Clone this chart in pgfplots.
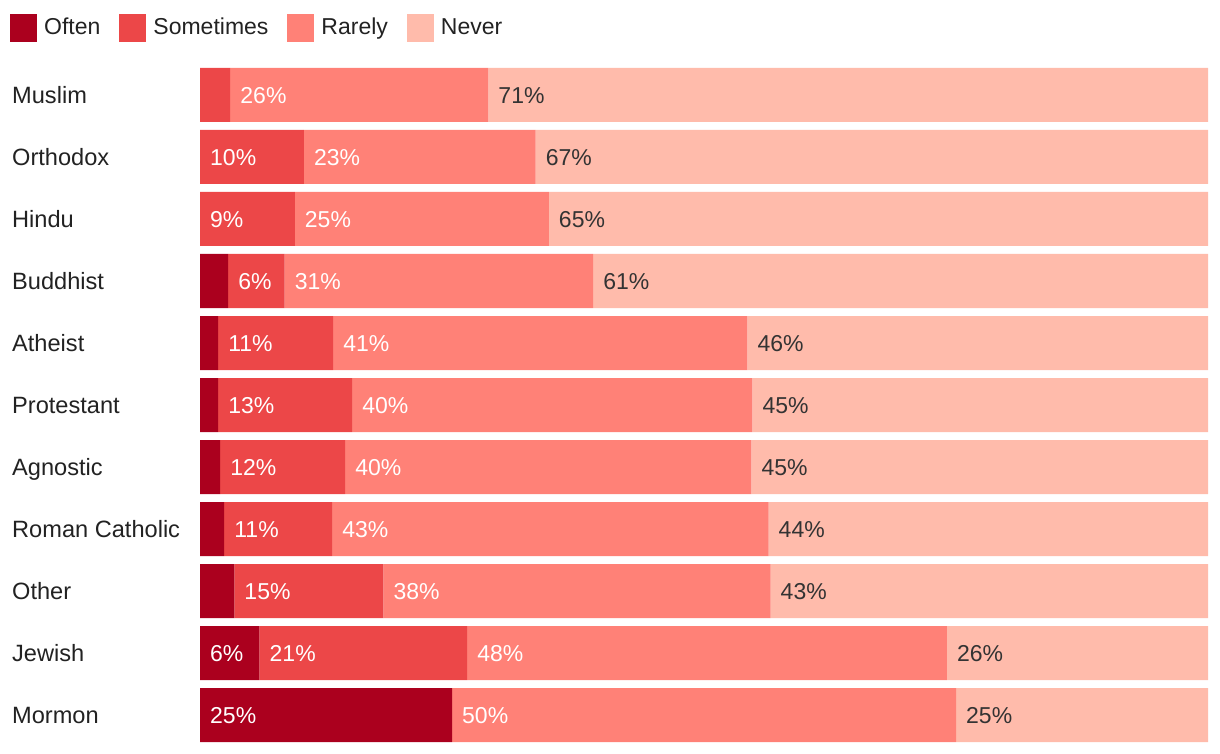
\documentclass[border=0pt]{standalone}
\usepackage{fontspec}
\setmainfont{Liberation Sans}
\usepackage{pgfplots}
\pgfplotsset{compat=1.18}
\usepackage{pgfplotstable}
\definecolor{often}{HTML}{AB001E}
\definecolor{sometimes}{HTML}{EC4748}
\definecolor{rarely}{HTML}{FF8177}
\definecolor{never}{HTML}{FFBBAB}
\definecolor{txt}{HTML}{222222}
\definecolor{lab}{HTML}{333333}
\pgfplotstableread{
idx often sometimes rarely never lo ls lr ln
0 0 3.0 25.6 71.4 {} {} 26 71
1 0 10.3 23.0 66.7 {} 10 23 67
2 0 9.4 25.2 65.4 {} 9 25 65
3 2.8 5.6 30.6 61.0 {} 6 31 61
4 1.8 11.4 41.1 45.7 {} 11 41 46
5 1.8 13.3 39.7 45.2 {} 13 40 45
6 2.0 12.4 40.3 45.3 {} 12 40 45
7 2.4 10.7 43.3 43.6 {} 11 43 44
8 3.4 14.8 38.4 43.4 {} 15 38 43
9 5.9 20.6 47.6 25.9 6 21 48 26
10 25 0 50 25 25 {} 50 25
}\datatable
\newcommand{\fnt}{\fontsize{23}{27}\selectfont}
\newcommand{\cfnt}{\fontsize{23.6}{27}\selectfont}
\pgfplotsset{
  base/.style={at={(200pt,8pt)}, anchor=south west,
    scale only axis, width=1008pt, height=682pt,
    xmin=0, xmax=100, ymin=-0.5, ymax=10.5, y dir=reverse,
    enlargelimits=false},
}
\begin{document}
\begin{tikzpicture}
\path[use as bounding box] (0pt,0pt) rectangle (1220pt,754pt);
\begin{axis}[
  base,
  xbar stacked, bar width=54pt,
  axis line style={draw=none},
  xtick=\empty, ytick={0,...,10},
  yticklabels={Muslim,Orthodox,Hindu,Buddhist,Atheist,Protestant,Agnostic,Roman Catholic,Other,Jewish,Mormon},
  major tick length=0pt,
  yticklabel style={anchor=base west, inner sep=0pt, xshift=-188pt, yshift=-8.5pt, font=\cfnt, text=txt},
  legend columns=4,
  legend image code/.code={\fill[#1] (0pt,-16pt) rectangle (27pt,12pt);},
  legend style={at={(-0.18849,1.0733)}, anchor=north west, draw=none, fill=none, inner sep=0pt, font=\fnt, text=txt,
    nodes={inner sep=0pt, text height=17pt, text depth=0pt},
    /tikz/every even column/.append style={column sep=19pt},
    /tikz/every odd column/.append style={column sep=7pt}},
]
\addplot[fill=often, draw=none] table[x=often, y=idx] {\datatable};
\addplot[fill=sometimes, draw=none] table[x=sometimes, y=idx] {\datatable};
\addplot[fill=rarely, draw=none] table[x=rarely, y=idx] {\datatable};
\addplot[fill=never, draw=none] table[x=never, y=idx] {\datatable};
\legend{Often,Sometimes,Rarely,Never}
\end{axis}
\begin{axis}[
  base, hide axis, clip=false,
  point meta=explicit symbolic,
  nodes near coords={\ifx\pgfplotspointmeta\empty\else\pgfplotspointmeta\%\fi},
  every node near coord/.append style={anchor=base west, inner sep=0pt, xshift=10pt, yshift=-8.3pt, font=\fnt},
]
\addplot[draw=none, mark=none, every node near coord/.append style={text=white}]
  table[x expr=0, y=idx, meta=lo] {\datatable};
\addplot[draw=none, mark=none, every node near coord/.append style={text=white}]
  table[x expr=\thisrow{often}, y=idx, meta=ls] {\datatable};
\addplot[draw=none, mark=none, every node near coord/.append style={text=white}]
  table[x expr=\thisrow{often}+\thisrow{sometimes}, y=idx, meta=lr] {\datatable};
\addplot[draw=none, mark=none, every node near coord/.append style={text=lab}]
  table[x expr=\thisrow{often}+\thisrow{sometimes}+\thisrow{rarely}, y=idx, meta=ln] {\datatable};
\end{axis}
\end{tikzpicture}
\end{document}
